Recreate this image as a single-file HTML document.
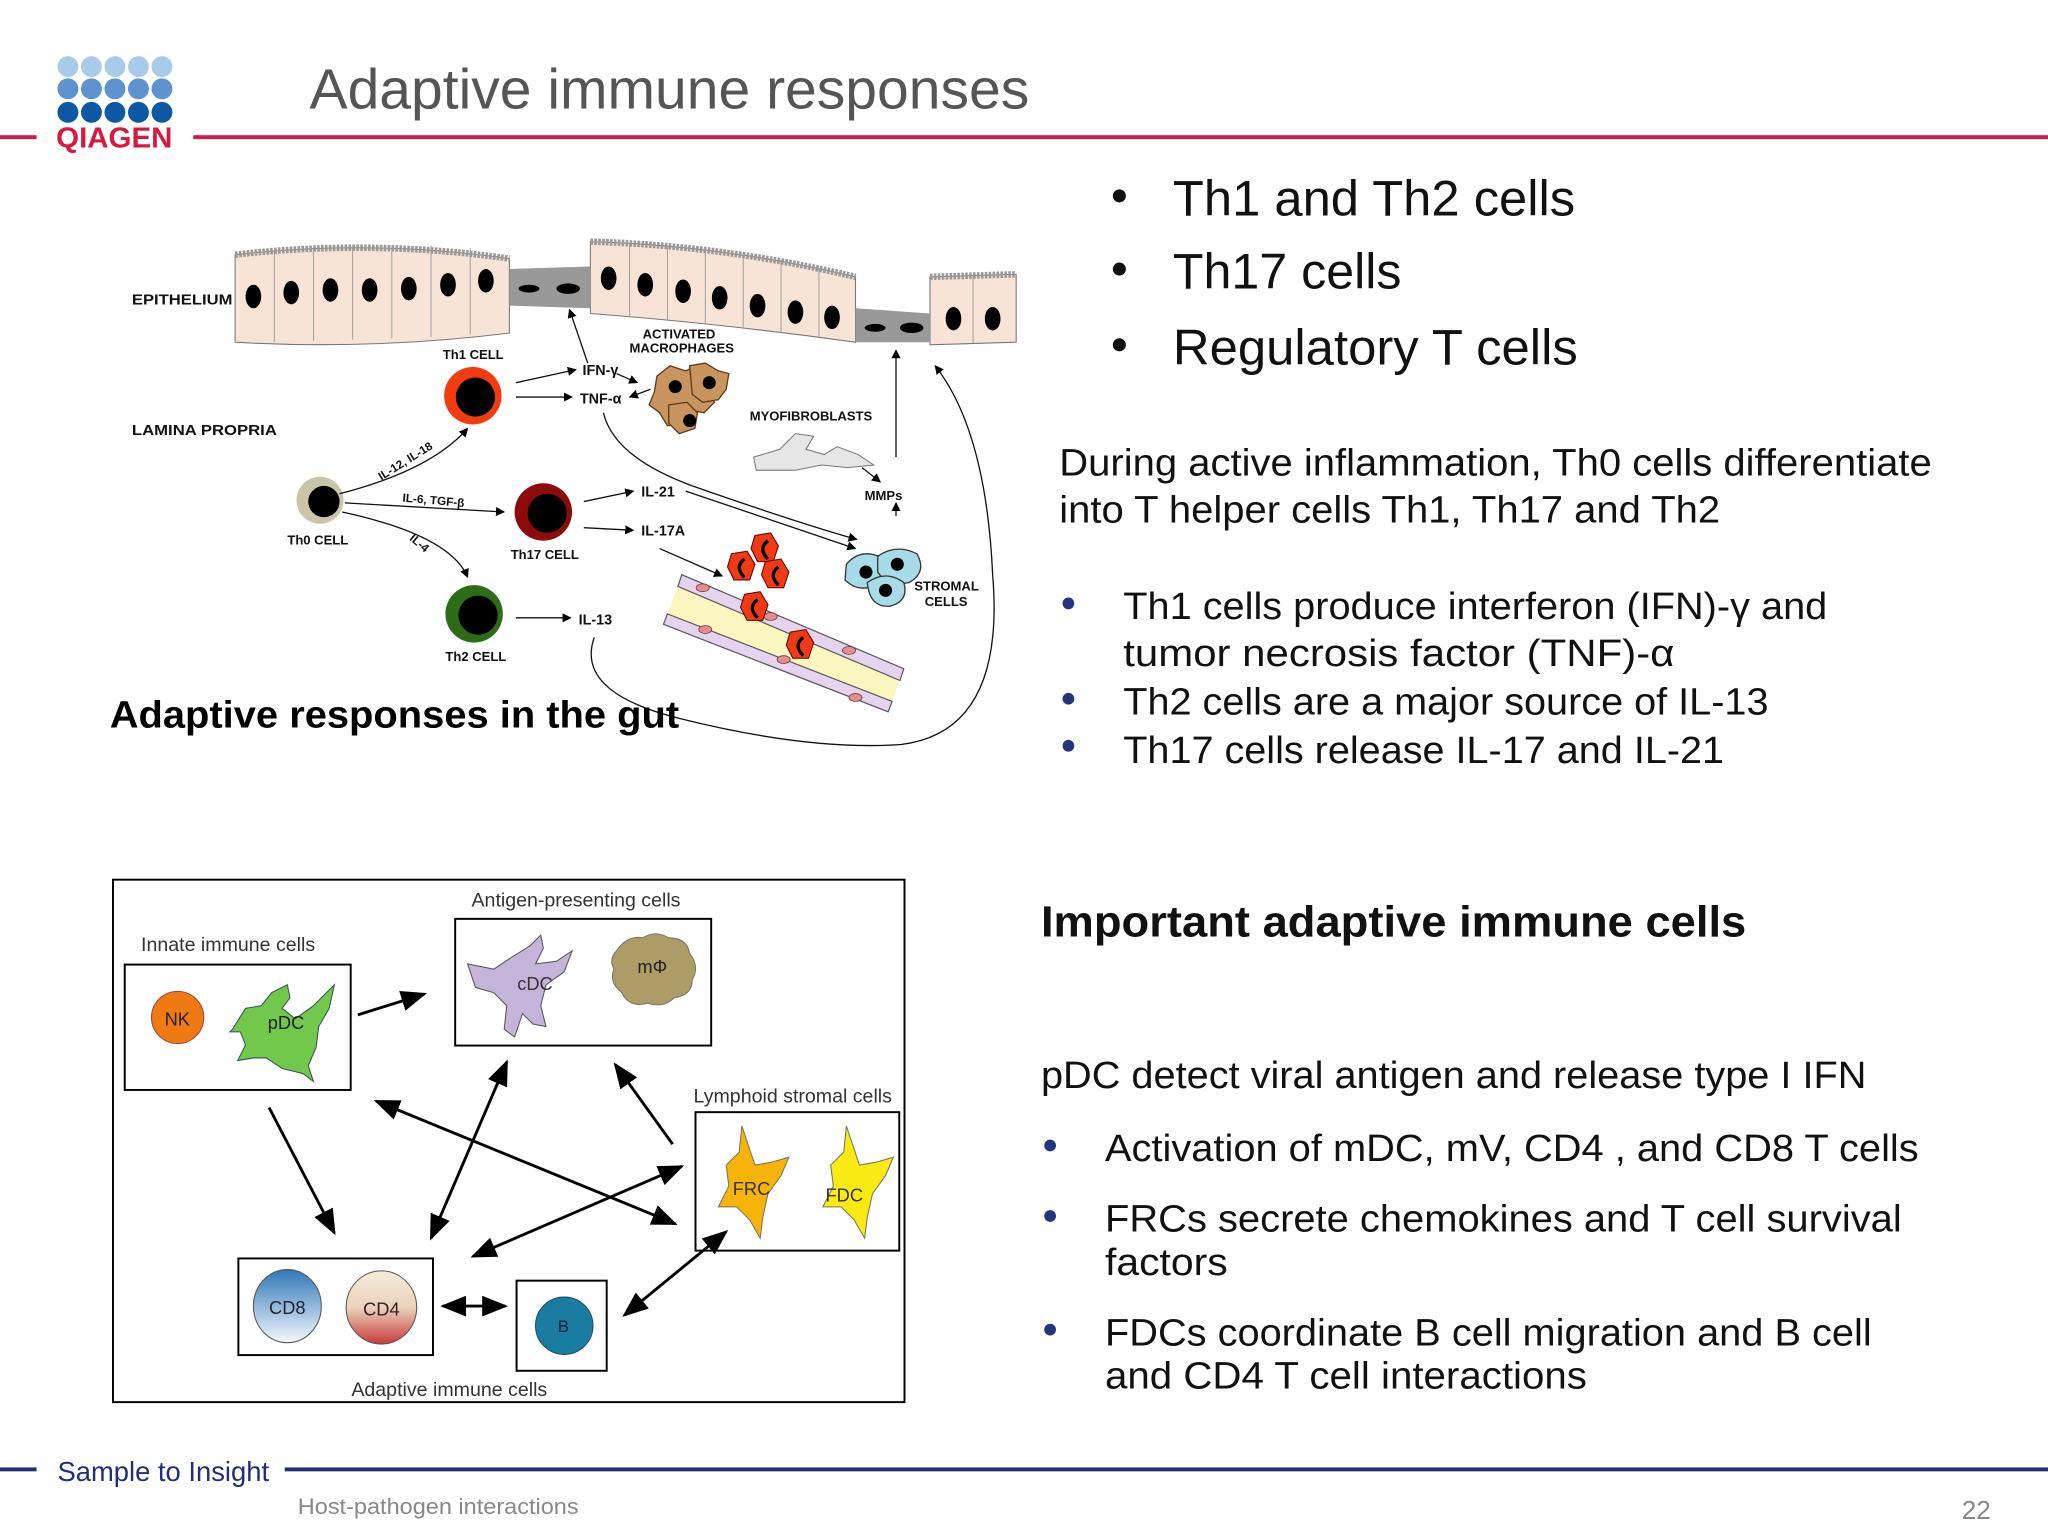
<!DOCTYPE html>
<html><head><meta charset="utf-8"><style>
html,body{margin:0;padding:0;background:#fff}
svg{display:block}
text{font-family:"Liberation Sans",Arial,sans-serif}
</style></head><body>
<svg width="2048" height="1536" viewBox="0 0 1568 1176" xmlns="http://www.w3.org/2000/svg">
<defs>
<marker id="a" viewBox="0 0 10 10" refX="9" refY="5" markerWidth="7" markerHeight="7" orient="auto-start-reverse"><path d="M0,0L10,5L0,10z" fill="#000"/></marker>
<marker id="s" viewBox="0 0 10 10" refX="9" refY="5" markerWidth="9" markerHeight="9" orient="auto-start-reverse"><path d="M0,1L10,5L0,9z" fill="#000"/></marker>
<linearGradient id="g8" x1="0" y1="0" x2="0" y2="1"><stop offset="0" stop-color="#2f78b8"/><stop offset="1" stop-color="#f4f8fc"/></linearGradient>
<linearGradient id="g4" x1="0" y1="0" x2="0" y2="1"><stop offset="0" stop-color="#f6ecd8"/><stop offset="0.5" stop-color="#ead2bc"/><stop offset="1" stop-color="#c83a3a"/></linearGradient>
</defs>
<rect width="1568" height="1176" fill="#fff"/>
<g>
<g fill="#a9cbea"><circle cx="52" cy="51" r="8"/><circle cx="70" cy="51" r="8"/><circle cx="88" cy="51" r="8"/><circle cx="106" cy="51" r="8"/><circle cx="124" cy="51" r="8"/></g>
<g fill="#5e93cf"><circle cx="52" cy="68" r="8"/><circle cx="70" cy="68" r="8"/><circle cx="88" cy="68" r="8"/><circle cx="106" cy="68" r="8"/><circle cx="124" cy="68" r="8"/></g>
<g fill="#0c58a4"><circle cx="52" cy="86" r="8"/><circle cx="70" cy="86" r="8"/><circle cx="88" cy="86" r="8"/><circle cx="106" cy="86" r="8"/><circle cx="124" cy="86" r="8"/></g>
<text x="43" y="113" font-size="22" font-weight="bold" fill="#d7193f" textLength="89" lengthAdjust="spacingAndGlyphs">QIAGEN</text>
<rect x="0" y="103.5" width="28" height="3" fill="#d7193f"/>
<rect x="148" y="103.5" width="1420" height="3" fill="#d7193f"/>
<text x="237" y="83" font-size="43" fill="#555" textLength="551" lengthAdjust="spacingAndGlyphs">Adaptive immune responses</text>
</g>
<g fill="#111">
<circle cx="857" cy="150" r="5"/><text x="898" y="165" font-size="38" textLength="308" lengthAdjust="spacingAndGlyphs">Th1 and Th2 cells</text>
<circle cx="857" cy="206" r="5"/><text x="898" y="221" font-size="38" textLength="175" lengthAdjust="spacingAndGlyphs">Th17 cells</text>
<circle cx="857" cy="264" r="5"/><text x="898" y="279" font-size="38" textLength="310" lengthAdjust="spacingAndGlyphs">Regulatory T cells</text>
<text x="811" y="364" font-size="29" textLength="668" lengthAdjust="spacingAndGlyphs">During active inflammation, Th0 cells differentiate</text>
<text x="811" y="400" font-size="29" textLength="506" lengthAdjust="spacingAndGlyphs">into T helper cells Th1, Th17 and Th2</text>
<g fill="#24357f"><circle cx="818" cy="462" r="4.5"/><circle cx="818" cy="535" r="4.5"/><circle cx="818" cy="571" r="4.5"/></g>
<text x="860" y="474" font-size="29" textLength="539" lengthAdjust="spacingAndGlyphs">Th1 cells produce interferon (IFN)-γ and</text>
<text x="860" y="510" font-size="29" textLength="422" lengthAdjust="spacingAndGlyphs">tumor necrosis factor (TNF)-α</text>
<text x="860" y="547" font-size="29" textLength="494" lengthAdjust="spacingAndGlyphs">Th2 cells are a major source of IL-13</text>
<text x="860" y="584" font-size="29" textLength="460" lengthAdjust="spacingAndGlyphs">Th17 cells release IL-17 and IL-21</text>
<text x="797" y="717" font-size="33" font-weight="bold" textLength="540" lengthAdjust="spacingAndGlyphs">Important adaptive immune cells</text>
<text x="797" y="833" font-size="29" textLength="632" lengthAdjust="spacingAndGlyphs">pDC detect viral antigen and release type I IFN</text>
<g fill="#24357f"><circle cx="804" cy="877" r="4.5"/><circle cx="804" cy="931" r="4.5"/><circle cx="804" cy="1018" r="4.5"/></g>
<text x="846" y="889" font-size="29" textLength="623" lengthAdjust="spacingAndGlyphs">Activation of mDC, mV, CD4 , and CD8 T cells</text>
<text x="846" y="943" font-size="29" textLength="610" lengthAdjust="spacingAndGlyphs">FRCs secrete chemokines and T cell survival</text>
<text x="846" y="976" font-size="29" textLength="94" lengthAdjust="spacingAndGlyphs">factors</text>
<text x="846" y="1030" font-size="29" textLength="587" lengthAdjust="spacingAndGlyphs">FDCs coordinate B cell migration and B cell</text>
<text x="846" y="1063" font-size="29" textLength="369" lengthAdjust="spacingAndGlyphs">and CD4 T cell interactions</text>
</g>
<g>
<g stroke="#777" stroke-width="0.8" fill="#f8e4d6">
<path d="M180,195 Q285,183 390,198 L390,255 Q285,268 180,262 Z"/>
<path d="M452,185 Q555,188 655,212 L655,262 Q555,248 452,240 Z"/>
<path d="M712,212 L778,210 L778,262 L712,264 Z"/>
</g>
<g stroke="#999" stroke-width="0.7">
<path d="M210,192V262M240,190V261M270,188V260M300,188V259M330,188V258M360,190V256M482,186V243M511,188V245M540,190V248M569,194V251M598,199V255M627,205V259M745,211V263"/>
</g>
<path d="M180,195 Q285,183 390,198" fill="none" stroke="#999" stroke-dasharray="2 1" stroke-width="5"/>
<path d="M452,185 Q555,188 655,212" fill="none" stroke="#999" stroke-dasharray="2 1" stroke-width="5"/>
<path d="M712,212 L778,210" fill="none" stroke="#999" stroke-dasharray="2 1" stroke-width="5"/>
<path d="M390,206 L452,204 L452,236 L390,234 Z" fill="#999"/>
<path d="M655,236 L712,240 L712,262 L655,262 Z" fill="#999"/>
<g fill="#000">
<ellipse cx="194" cy="227" rx="6" ry="9"/><ellipse cx="223" cy="224" rx="6" ry="9"/><ellipse cx="253" cy="222" rx="6" ry="9"/><ellipse cx="283" cy="222" rx="6" ry="9"/><ellipse cx="313" cy="221" rx="6" ry="9"/><ellipse cx="343" cy="218" rx="6" ry="9"/><ellipse cx="372" cy="215" rx="6" ry="9"/>
<ellipse cx="466" cy="213" rx="6" ry="9"/><ellipse cx="494" cy="218" rx="6" ry="9"/><ellipse cx="523" cy="223" rx="6" ry="9"/><ellipse cx="551" cy="228" rx="6" ry="9"/><ellipse cx="580" cy="234" rx="6" ry="9"/><ellipse cx="609" cy="239" rx="6" ry="9"/><ellipse cx="637" cy="243" rx="6" ry="9"/>
<ellipse cx="730" cy="244" rx="6" ry="9"/><ellipse cx="760" cy="244" rx="6" ry="9"/>
<ellipse cx="405" cy="221" rx="8" ry="3"/><ellipse cx="435" cy="221" rx="9" ry="4"/><ellipse cx="670" cy="251" rx="8" ry="3"/><ellipse cx="698" cy="251" rx="9" ry="4"/>
</g>
<g font-size="11" font-weight="bold" fill="#111">
<text x="101" y="233" textLength="77" lengthAdjust="spacingAndGlyphs">EPITHELIUM</text>
<text x="101" y="333" textLength="111" lengthAdjust="spacingAndGlyphs">LAMINA PROPRIA</text>
</g>
<g font-size="10" fill="#111" font-weight="bold">
<text x="339" y="275">Th1 CELL</text>
<text x="220" y="417">Th0 CELL</text>
<text x="391" y="428">Th17 CELL</text>
<text x="341" y="506">Th2 CELL</text>
<text x="492" y="259">ACTIVATED</text><text x="482" y="270">MACROPHAGES</text>
<text x="574" y="322">MYOFIBROBLASTS</text>
<text x="662" y="383">MMPs</text>
<text x="700" y="452">STROMAL</text><text x="708" y="464">CELLS</text>
<text x="617" y="516">NEUTROPHIL</text>
<text x="446" y="287" font-size="11">IFN-γ</text>
<text x="444" y="309" font-size="11">TNF-α</text>
<text x="491" y="380" font-size="11">IL-21</text>
<text x="491" y="410" font-size="11">IL-17A</text>
<text x="443" y="478" font-size="11">IL-13</text>
<text x="292" y="368" font-size="9" transform="rotate(-32 292 368)">IL-12, IL-18</text>
<text x="308" y="384" font-size="9" transform="rotate(5 308 384)">IL-6, TGF-β</text>
<text x="313" y="413" font-size="9" transform="rotate(40 313 413)">IL-4</text>
</g>
<circle cx="362" cy="303" r="22" fill="#f23c10"/><circle cx="364" cy="304" r="15" fill="#000"/>
<circle cx="245" cy="383" r="18" fill="#c9c5a6"/><circle cx="248" cy="384" r="12" fill="#000"/>
<circle cx="416" cy="392" r="22" fill="#8e0b0b"/><circle cx="419" cy="393" r="15" fill="#000"/>
<circle cx="363" cy="470" r="22" fill="#2f6c18"/><circle cx="366" cy="471" r="15" fill="#000"/>
<g fill="#c9955e" stroke="#5a3a1a" stroke-width="1">
<path d="M503,288 l10,-8 l12,4 l8,-4 l10,6 l-2,12 l6,10 l-8,8 l-10,-2 l-6,10 l-12,2 l-6,-10 l-8,-6 l4,-10z"/>
<path d="M528,280 l12,-2 l10,6 l8,2 l-2,12 l-6,8 l-12,2 l-8,-6z"/>
<path d="M512,310 l14,-2 l8,8 l-2,12 l-12,4 l-8,-8z"/>
</g>
<circle cx="517" cy="296" r="5"/><circle cx="543" cy="293" r="5"/><circle cx="528" cy="322" r="5"/>
<path d="M577,350 l20,-6 l12,-12 l14,2 l-6,10 l14,4 l10,-6 l16,6 l12,8 l-20,2 l-20,-2 l-20,4 l-30,0z" fill="#e6e6e6" stroke="#777" stroke-width="0.8"/>
<g fill="#a7dbe8" stroke="#333" stroke-width="1">
<path d="M648,432 q10,-12 25,-6 q8,12 -2,22 q-14,6 -24,-4z"/>
<path d="M672,426 q14,-10 30,-2 q8,14 -6,22 q-16,4 -24,-8z"/>
<path d="M664,446 q14,-10 28,0 q4,14 -10,18 q-16,2 -18,-18z"/>
</g>
<circle cx="663" cy="438" r="5"/><circle cx="687" cy="432" r="5"/><circle cx="678" cy="452" r="5"/>
<path d="M522,440 L692,512 L680,545 L508,478 Z" fill="#fbf6c0"/>
<path d="M522,440 L692,512 L689,521 L519,449 Z" fill="#e6d3ef" stroke="#555" stroke-width="0.9"/>
<path d="M511,470 L683,537 L680,545 L508,478 Z" fill="#e6d3ef" stroke="#555" stroke-width="0.9"/>
<g fill="#e09090" stroke="#733" stroke-width="0.6"><ellipse cx="538" cy="450" rx="5" ry="3"/><ellipse cx="590" cy="472" rx="5" ry="3"/><ellipse cx="650" cy="498" rx="5" ry="3"/><ellipse cx="540" cy="482" rx="5" ry="3"/><ellipse cx="600" cy="505" rx="5" ry="3"/><ellipse cx="655" cy="534" rx="5" ry="3"/></g>
<g fill="#ef3a14" stroke="#600" stroke-width="0.8">
<path d="M578,410 l12,-2 l6,10 l-4,12 l-12,0 l-5,-10z"/>
<path d="M560,424 l12,-2 l6,10 l-4,12 l-12,0 l-5,-10z"/>
<path d="M586,430 l12,-2 l6,10 l-4,12 l-12,0 l-5,-10z"/>
<path d="M570,455 l12,-2 l6,10 l-4,12 l-12,0 l-5,-10z"/>
<path d="M605,484 l12,-2 l6,10 l-4,12 l-12,0 l-5,-10z"/>
</g>
<g fill="none" stroke="#000" stroke-width="2.5"><path d="M588,414 q-8,6 0,14"/><path d="M570,428 q-8,6 0,14"/><path d="M596,434 q-8,6 0,14"/><path d="M580,459 q-8,6 0,14"/><path d="M615,488 q-8,6 0,14"/></g>
<g fill="none" stroke="#111" stroke-width="1" marker-end="url(#a)">
<path d="M395,293 L441,283"/><path d="M395,304 L438,304"/>
<path d="M472,286 L488,293"/><path d="M498,298 L482,304"/>
<path d="M450,278 L436,237"/>
<path d="M260,378 Q330,360 358,328"/>
<path d="M264,385 L386,392"/>
<path d="M262,392 Q345,410 358,442"/>
<path d="M447,384 L485,376"/><path d="M447,404 L485,406"/>
<path d="M395,473 L437,473"/>
<path d="M462,316 Q470,350 530,372 Q610,400 656,413"/>
<path d="M525,376 L655,420"/>
<path d="M505,420 L553,441"/>
<path d="M660,358 L674,369"/>
<path d="M686,395 L686,385"/>
<path d="M686,350 L686,268"/>
<path d="M455,488 Q440,530 520,550 Q620,575 690,570 Q770,560 760,440 Q755,330 716,280"/>
</g>
<text x="84" y="557" font-size="29" font-weight="bold" fill="#000" textLength="436" lengthAdjust="spacingAndGlyphs">Adaptive responses in the gut</text>
</g>
<g>
<rect x="86.5" y="673.5" width="606" height="400" fill="#fff" stroke="#000" stroke-width="1.5"/>
<g fill="none" stroke="#000" stroke-width="1.5">
<rect x="95.5" y="738.5" width="173" height="96"/>
<rect x="348.5" y="703.5" width="196" height="97"/>
<rect x="532.5" y="851.5" width="156" height="106"/>
<rect x="182.5" y="963.5" width="149" height="74"/>
<rect x="395.5" y="980.5" width="69" height="69"/>
</g>
<g font-size="15" fill="#333">
<text x="108" y="728">Innate immune cells</text>
<text x="361" y="694">Antigen-presenting cells</text>
<text x="531" y="844">Lymphoid stromal cells</text>
<text x="269" y="1069">Adaptive immune cells</text>
</g>
<circle cx="136" cy="779" r="20" fill="#f07a12" stroke="#944" stroke-width="0.8"/>
<text x="126" y="785" font-size="14" fill="#222">NK</text>
<path d="M178,788 l10,-16 l12,-2 l8,-10 l12,-6 l2,10 l-6,8 l10,8 l14,-10 l16,-16 l-4,18 l-8,14 l-2,16 l-6,14 l4,12 l-8,-6 l-16,-4 l-12,-8 l-10,0 l-12,2 l6,-12 l-4,-10 l-8,0z" fill="#72c84a" stroke="#355" stroke-width="0.8"/>
<text x="205" y="788" font-size="14" fill="#222">pDC</text>
<path d="M358,738 l20,4 l12,-8 l16,-10 l8,-8 l2,10 l-6,12 l16,-2 l12,-8 l-6,16 l-14,10 l-4,16 l4,16 l-10,-2 l-8,-8 l-6,18 l-8,-6 l2,-18 l-10,-10 l-14,-4z" fill="#c5b4da" stroke="#555" stroke-width="0.8"/>
<text x="396" y="758" font-size="14" fill="#333">cDC</text>
<path d="M472,728 q8,-12 20,-10 q10,-6 20,0 q14,0 16,12 q8,10 2,20 q0,12 -14,14 q-8,8 -20,4 q-14,4 -20,-8 q-10,-8 -6,-18 q-4,-8 2,-14z" fill="#ad9c66" stroke="#776" stroke-width="0.8"/>
<text x="488" y="745" font-size="14" fill="#222">mΦ</text>
<path d="M568,862 l6,18 l4,12 l12,-2 l14,-4 l-6,14 l-10,14 l-4,18 l-2,16 l-8,-14 l-10,-10 l-14,0 l8,-16 l-2,-16 l10,-10z" fill="#f6b40a" stroke="#775" stroke-width="0.8"/>
<text x="561" y="915" font-size="14" fill="#333">FRC</text>
<path d="M648,862 l6,18 l4,12 l12,-2 l14,-4 l-6,14 l-10,14 l-4,18 l-2,16 l-8,-14 l-10,-10 l-14,0 l8,-16 l-2,-16 l10,-10z" fill="#f8ea12" stroke="#775" stroke-width="0.8"/>
<text x="632" y="920" font-size="14" fill="#333">FDC</text>
<ellipse cx="220" cy="1000" rx="26" ry="28" fill="url(#g8)" stroke="#555" stroke-width="0.8"/>
<text x="206" y="1006" font-size="14" fill="#223">CD8</text>
<ellipse cx="292" cy="1001" rx="27" ry="28" fill="url(#g4)" stroke="#555" stroke-width="0.8"/>
<text x="278" y="1007" font-size="14" fill="#322">CD4</text>
<circle cx="432" cy="1015" r="22" fill="#1a7ca0" stroke="#1a4f6a" stroke-width="0.8"/>
<text x="427" y="1020" font-size="13" fill="#123">B</text>
<g stroke="#000" stroke-width="2.2" fill="none" marker-end="url(#s)">
<path d="M274,777 L325,761"/>
<path d="M206,848 L256,944"/>
<path d="M515,876 L471,815"/>
</g>
<g stroke="#000" stroke-width="2.2" fill="none" marker-end="url(#s)" marker-start="url(#s)">
<path d="M330,948 L388,813"/>
<path d="M288,843 L517,937"/>
<path d="M362,962 L522,893"/>
<path d="M478,1007 L556,943"/>
<path d="M339,1000 L387,1000"/>
</g>
</g>
<rect x="0" y="1123.5" width="28" height="3" fill="#1f2f7a"/>
<rect x="218" y="1123.5" width="1350" height="3" fill="#1f2f7a"/>
<text x="44" y="1134" font-size="21" fill="#1f2f7a" textLength="162" lengthAdjust="spacingAndGlyphs">Sample to Insight</text>
<text x="228" y="1159" font-size="17" fill="#888" textLength="215" lengthAdjust="spacingAndGlyphs">Host-pathogen interactions</text>
<text x="1502" y="1163" font-size="20" fill="#888">22</text>
</svg>
</body></html>
